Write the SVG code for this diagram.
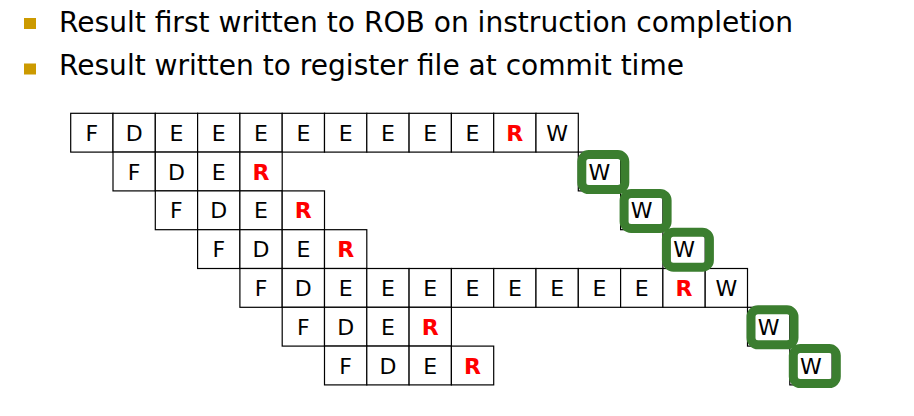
<svg xmlns="http://www.w3.org/2000/svg" xmlns:xlink="http://www.w3.org/1999/xlink" width="914" height="416" viewBox="0 0 914 416">
<style>
.hd{font-family:"DejaVu Sans","Liberation Sans",sans-serif;font-size:28px;fill:#000}
.t{font-family:"DejaVu Sans","Liberation Sans",sans-serif;font-size:22px;fill:#000;text-anchor:middle}
.r{fill:#ff0000;font-weight:bold}
.cell{fill:#fff;stroke:#000;stroke-width:1.2}
.gb{fill:none;stroke:#3b7e2f;stroke-width:9}
.bul{fill:#cc9a00}
</style>
<defs>
<rect id="c" class="cell" width="42.3" height="38.8"/>
</defs>
<rect width="914" height="416" fill="#fff"/>
<g id="bullets">
<rect class="bul" x="24" y="18" width="12" height="11"/>
<text class="hd" x="59" y="31.5" textLength="734" lengthAdjust="spacingAndGlyphs">Result first written to ROB on instruction completion</text>
<rect class="bul" x="24" y="63.5" width="12" height="11"/>
<text class="hd" x="59" y="75" textLength="625" lengthAdjust="spacingAndGlyphs">Result written to register file at commit time</text>
</g>
<g id="row1">
<use href="#c" x="70.7" y="113.3"/><use href="#c" x="113" y="113.3"/><use href="#c" x="155.3" y="113.3"/><use href="#c" x="197.6" y="113.3"/><use href="#c" x="239.9" y="113.3"/><use href="#c" x="282.2" y="113.3"/><use href="#c" x="324.5" y="113.3"/><use href="#c" x="366.8" y="113.3"/><use href="#c" x="409.1" y="113.3"/><use href="#c" x="451.4" y="113.3"/><use href="#c" x="493.7" y="113.3"/><use href="#c" x="536" y="113.3"/>
<text class="t" x="91.85" y="140.8">F</text><text class="t" x="134.15" y="140.8">D</text><text class="t" x="176.45" y="140.8">E</text><text class="t" x="218.75" y="140.8">E</text><text class="t" x="261.05" y="140.8">E</text><text class="t" x="303.35" y="140.8">E</text><text class="t" x="345.65" y="140.8">E</text><text class="t" x="387.95" y="140.8">E</text><text class="t" x="430.25" y="140.8">E</text><text class="t" x="472.55" y="140.8">E</text><text class="t r" x="514.85" y="140.8">R</text><text class="t" x="557.15" y="140.8">W</text>
</g>
<g id="row2">
<use href="#c" x="113" y="152.1"/><use href="#c" x="155.3" y="152.1"/><use href="#c" x="197.6" y="152.1"/><use href="#c" x="239.9" y="152.1"/><use href="#c" x="578.3" y="152.1"/>
<text class="t" x="134.15" y="179.6">F</text><text class="t" x="176.45" y="179.6">D</text><text class="t" x="218.75" y="179.6">E</text><text class="t r" x="261.05" y="179.6">R</text><text class="t" x="599.45" y="179.6">W</text>
</g>
<g id="row3">
<use href="#c" x="155.3" y="190.9"/><use href="#c" x="197.6" y="190.9"/><use href="#c" x="239.9" y="190.9"/><use href="#c" x="282.2" y="190.9"/><use href="#c" x="620.6" y="190.9"/>
<text class="t" x="176.45" y="218.4">F</text><text class="t" x="218.75" y="218.4">D</text><text class="t" x="261.05" y="218.4">E</text><text class="t r" x="303.35" y="218.4">R</text><text class="t" x="641.75" y="218.4">W</text>
</g>
<g id="row4">
<use href="#c" x="197.6" y="229.7"/><use href="#c" x="239.9" y="229.7"/><use href="#c" x="282.2" y="229.7"/><use href="#c" x="324.5" y="229.7"/><use href="#c" x="662.9" y="229.7"/>
<text class="t" x="218.75" y="257.2">F</text><text class="t" x="261.05" y="257.2">D</text><text class="t" x="303.35" y="257.2">E</text><text class="t r" x="345.65" y="257.2">R</text><text class="t" x="684.05" y="257.2">W</text>
</g>
<g id="row5">
<use href="#c" x="239.9" y="268.5"/><use href="#c" x="282.2" y="268.5"/><use href="#c" x="324.5" y="268.5"/><use href="#c" x="366.8" y="268.5"/><use href="#c" x="409.1" y="268.5"/><use href="#c" x="451.4" y="268.5"/><use href="#c" x="493.7" y="268.5"/><use href="#c" x="536" y="268.5"/><use href="#c" x="578.3" y="268.5"/><use href="#c" x="620.6" y="268.5"/><use href="#c" x="662.9" y="268.5"/><use href="#c" x="705.2" y="268.5"/>
<text class="t" x="261.05" y="296">F</text><text class="t" x="303.35" y="296">D</text><text class="t" x="345.65" y="296">E</text><text class="t" x="387.95" y="296">E</text><text class="t" x="430.25" y="296">E</text><text class="t" x="472.55" y="296">E</text><text class="t" x="514.85" y="296">E</text><text class="t" x="557.15" y="296">E</text><text class="t" x="599.45" y="296">E</text><text class="t" x="641.75" y="296">E</text><text class="t r" x="684.05" y="296">R</text><text class="t" x="726.35" y="296">W</text>
</g>
<g id="row6">
<use href="#c" x="282.2" y="307.3"/><use href="#c" x="324.5" y="307.3"/><use href="#c" x="366.8" y="307.3"/><use href="#c" x="409.1" y="307.3"/><use href="#c" x="747.5" y="307.3"/>
<text class="t" x="303.35" y="334.8">F</text><text class="t" x="345.65" y="334.8">D</text><text class="t" x="387.95" y="334.8">E</text><text class="t r" x="430.25" y="334.8">R</text><text class="t" x="768.65" y="334.8">W</text>
</g>
<g id="row7">
<use href="#c" x="324.5" y="346.1"/><use href="#c" x="366.8" y="346.1"/><use href="#c" x="409.1" y="346.1"/><use href="#c" x="451.4" y="346.1"/><use href="#c" x="789.8" y="346.1"/>
<text class="t" x="345.65" y="373.6">F</text><text class="t" x="387.95" y="373.6">D</text><text class="t" x="430.25" y="373.6">E</text><text class="t r" x="472.55" y="373.6">R</text><text class="t" x="810.95" y="373.6">W</text>
</g>
<g id="commit-highlights">
<rect class="gb" x="581.8" y="154.6" width="43" height="35" rx="7"/>
<rect class="gb" x="624.1" y="193.4" width="43" height="35" rx="7"/>
<rect class="gb" x="666.4" y="232.2" width="43" height="35" rx="7"/>
<rect class="gb" x="751" y="309.8" width="43" height="35" rx="7"/>
<rect class="gb" x="793.3" y="348.6" width="43" height="35" rx="7"/>
</g>
</svg>
